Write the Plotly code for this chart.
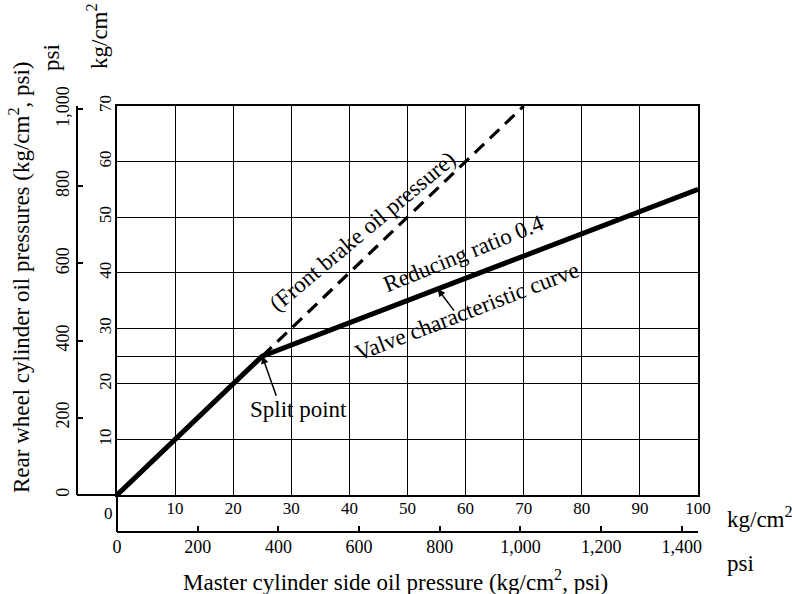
import plotly.graph_objects as go

# Valve characteristic (master vs rear pressure, kg/cm^2)
master_kg = [0, 25, 100]
rear_kg = [0, 25, 55]
# Front brake oil pressure follows master pressure 1:1 beyond the split point
front_master_kg = [25, 70]
front_rear_kg = [25, 70]
split_point = (25, 25)

# Axis ticks
kg_x_ticks = [0, 10, 20, 30, 40, 50, 60, 70, 80, 90, 100]
kg_y_ticks = [10, 20, 25, 30, 40, 50, 60, 70]
kg_y_text = ["10", "20", "", "30", "40", "50", "60", "70"]
psi_ticks = [0, 200, 400, 600, 800, 1000, 1200, 1400]
psi_text = ["0", "200", "400", "600", "800", "1,000", "1,200", "1,400"]
psi_y_ticks = [0, 200, 400, 600, 800, 1000]
psi_y_text = ["0", "200", "400", "600", "800", "1,000"]

KG_TO_PSI = 14.4
FONT = "Liberation Serif"

W, H = 792, 594
# outer frame (psi axes) and inner plot box (kg grid), in pixels
L, R, T, B = 77, 94, 106, 62
PLOT_LEFT, PLOT_BOTTOM = 117, 495
pw, ph = W - L - R, H - T - B


def px_x(p):
    return (p - L) / pw


def px_y(p):
    return (H - B - p) / ph


x_dom = [px_x(PLOT_LEFT), 1]
y_dom = [px_y(PLOT_BOTTOM), 1]

fig = go.Figure()

fig.add_trace(go.Scatter(
    x=master_kg, y=rear_kg, mode="lines",
    line=dict(color="black", width=5), showlegend=False, hoverinfo="skip"))
fig.add_trace(go.Scatter(
    x=front_master_kg, y=front_rear_kg, mode="lines",
    line=dict(color="black", width=3.2, dash="13px,8px"), showlegend=False, hoverinfo="skip"))

# Empty traces that activate the psi axes
fig.add_trace(go.Scatter(x=[None], y=[None], xaxis="x2", yaxis="y", showlegend=False))
fig.add_trace(go.Scatter(x=[None], y=[None], xaxis="x", yaxis="y2", showlegend=False))

tick_font = dict(family=FONT, size=18, color="black")
kg_tick_font = dict(family=FONT, size=17, color="black")

fig.update_layout(
    width=W, height=H, autosize=False,
    margin=dict(l=L, r=R, t=T, b=B, pad=0),
    paper_bgcolor="white", plot_bgcolor="white",
    font=dict(family=FONT, color="black", size=23),
    xaxis=dict(
        domain=x_dom, range=[0, 100], tickvals=kg_x_ticks,
        ticktext=[""] + [str(v) for v in kg_x_ticks[1:]],
        showgrid=True, gridcolor="black", gridwidth=1,
        showline=True, linecolor="black", linewidth=2, mirror=True,
        ticks="", tickfont=kg_tick_font, zeroline=False, ticklabelstandoff=-3,
    ),
    yaxis=dict(
        domain=y_dom, range=[0, 70], tickvals=kg_y_ticks, ticktext=kg_y_text,
        showgrid=True, gridcolor="black", gridwidth=1,
        showline=True, linecolor="black", linewidth=2, mirror=True,
        ticks="", tickfont=kg_tick_font, tickangle=-90, zeroline=False,
        ticklabelstandoff=-3,
    ),
    xaxis2=dict(
        domain=x_dom, range=[0, 100 * KG_TO_PSI], overlaying="x", anchor="free",
        position=0, side="bottom",
        tickvals=psi_ticks, ticktext=psi_text,
        showgrid=False, zeroline=False,
        showline=True, linecolor="black", linewidth=2,
        ticks="inside", ticklen=5, tickcolor="black", tickwidth=1.5,
        tickfont=tick_font, ticklabelstandoff=-2,
    ),
    yaxis2=dict(
        domain=y_dom, range=[0, 70 * KG_TO_PSI], overlaying="y", anchor="free",
        position=0, side="left",
        tickvals=psi_y_ticks, ticktext=psi_y_text,
        showgrid=False, zeroline=False,
        showline=True, linecolor="black", linewidth=2,
        ticks="inside", ticklen=5, tickcolor="black", tickwidth=1.5,
        tickfont=tick_font, tickangle=-90,
    ),
)

shapes = [
    # baseline extended to the psi axis
    dict(type="line", xref="paper", yref="paper", x0=0, x1=x_dom[0],
         y0=y_dom[0], y1=y_dom[0], line=dict(color="black", width=2)),
    # connector down to the psi scale
    dict(type="line", xref="paper", yref="paper", x0=x_dom[0], x1=x_dom[0],
         y0=0, y1=y_dom[0], line=dict(color="black", width=2)),
]
fig.update_layout(shapes=shapes)

ann_font = dict(family=FONT, size=23, color="black")
C = dict(xanchor="center", yanchor="middle", showarrow=False)
ann = []
ann.append(dict(x=0, y=0, xref="x", yref="y", text="0", xshift=-9, yshift=-18,
                font=kg_tick_font, **C))
ann.append(dict(x=42.2, y=47.5, xref="x", yref="y", text="(Front brake oil pressure)",
                textangle=-40, font=ann_font, **C))
ann.append(dict(x=59.7, y=43.5, xref="x", yref="y", text="Reducing ratio 0.4",
                textangle=-22, font=ann_font, **C))
ann.append(dict(x=60.2, y=33.1, xref="x", yref="y", text="Valve characteristic curve",
                textangle=-21, font=ann_font, **C))
ann.append(dict(x=31.2, y=15.3, xref="x", yref="y", text="Split point",
                font=ann_font, **C))
ann.append(dict(x=split_point[0], y=split_point[1], xref="x", yref="y",
                ax=27.5, ay=17.6, axref="x", ayref="y", text="", showarrow=True,
                arrowhead=2, arrowsize=1, arrowwidth=1.5, arrowcolor="black"))
curve_x = 55.2
curve_y = rear_kg[1] + 0.4 * (curve_x - master_kg[1])
ann.append(dict(x=curve_x, y=curve_y, xref="x", yref="y",
                ax=58.2, ay=32.9, axref="x", ayref="y", text="", showarrow=True,
                arrowhead=2, arrowsize=1, arrowwidth=1.5, arrowcolor="black"))
# Units and titles
ann.append(dict(x=px_x(725), y=px_y(517), xref="paper", yref="paper",
                text="kg/cm<sup>2</sup>", font=ann_font,
                xanchor="left", yanchor="middle", showarrow=False))
ann.append(dict(x=px_x(725), y=px_y(563), xref="paper", yref="paper",
                text="psi", font=ann_font,
                xanchor="left", yanchor="middle", showarrow=False))
ann.append(dict(x=px_x(395), y=px_y(580), xref="paper", yref="paper",
                text="Master cylinder side oil pressure (kg/cm<sup>2</sup>, psi)",
                font=ann_font, **C))
ann.append(dict(x=px_x(19), y=px_y(277), xref="paper", yref="paper",
                text="Rear wheel cylinder oil pressures (kg/cm<sup>2</sup>, psi)",
                textangle=-90, font=ann_font, **C))
ann.append(dict(x=px_x(52), y=px_y(58), xref="paper", yref="paper",
                text="psi", textangle=-90, font=ann_font, **C))
ann.append(dict(x=px_x(97), y=px_y(36), xref="paper", yref="paper",
                text="kg/cm<sup>2</sup>", textangle=-90, font=ann_font, **C))
fig.update_layout(annotations=ann)

fig.write_html("out.html")
